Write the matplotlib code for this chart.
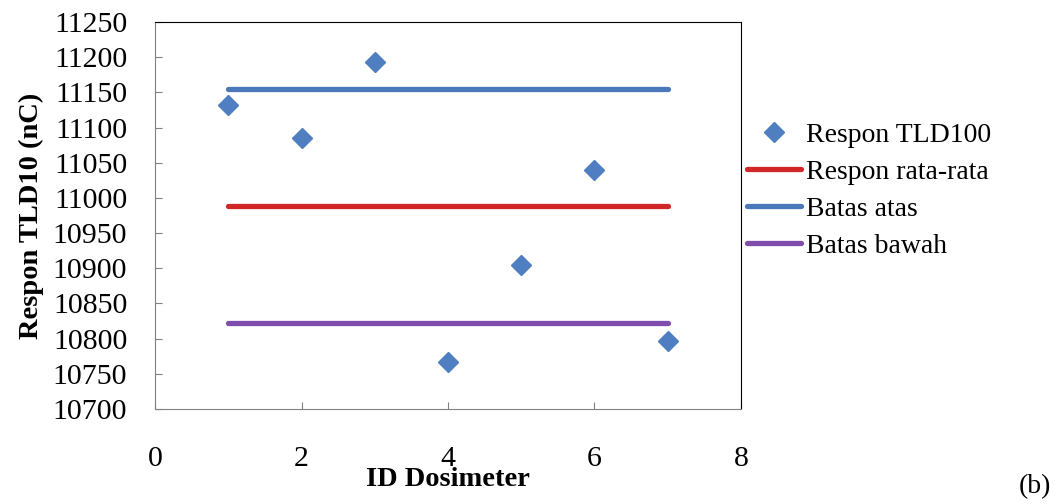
import matplotlib.pyplot as plt

# dosimeter response data
dosimeter_id = [1, 2, 3, 4, 5, 6, 7]
respon_tld = [11132, 11085, 11193, 10767, 10905, 11040, 10797]
respon_rata = [10988, 10988, 10988, 10988, 10988, 10988, 10988]
batas_atas = [11155, 11155, 11155, 11155, 11155, 11155, 11155]
batas_bawah = [10822, 10822, 10822, 10822, 10822, 10822, 10822]

x_ticks = [0, 2, 4, 6, 8]
y_ticks = [10700, 10750, 10800, 10850, 10900, 10950, 11000, 11050,
           11100, 11150, 11200, 11250]

plt.rcParams['font.family'] = ['Liberation Serif', 'DejaVu Serif']

fig = plt.figure(figsize=(10.59, 5.04), dpi=100)
ax = fig.add_axes([0.1464, 0.1885, 0.5533, 0.7678])

ax.plot(dosimeter_id, respon_tld, linestyle='none', marker='D', markersize=10.5,
        color='#4F7FC0', label='Respon TLD100', zorder=3)
ax.plot(dosimeter_id, respon_rata, color='#D02828', linewidth=3.8,
        solid_capstyle='round', label='Respon rata-rata')
ax.plot(dosimeter_id, batas_atas, color='#4A78B8', linewidth=3.8,
        solid_capstyle='round', label='Batas atas')
ax.plot(dosimeter_id, batas_bawah, color='#7F4DAB', linewidth=3.8,
        solid_capstyle='round', label='Batas bawah')

ax.set_xlim(0, 8)
ax.set_ylim(10700, 11250)
ax.set_xticks(x_ticks)
ax.set_yticks(y_ticks)

ax.tick_params(axis='y', direction='in', length=5, color='#808080',
               labelsize=21.5, pad=20)
ax.tick_params(axis='x', direction='in', length=5, color='#808080',
               labelsize=21.5, pad=27)

for side in ['left', 'bottom']:
    ax.spines[side].set_color('#808080')
for side in ['top', 'right']:
    ax.spines[side].set_color('black')

ax.set_ylabel('Respon TLD10 (nC)', fontsize=20.5, fontweight='bold', labelpad=6)
ax.set_xlabel('ID Dosimeter', fontsize=20.5, fontweight='bold', labelpad=-4)

ax.legend(loc='center left', bbox_to_anchor=(1.0, 0.564), frameon=False,
          fontsize=20, handlelength=1.95, handletextpad=0.2, labelspacing=0.42,
          borderpad=0, borderaxespad=0.2)

fig.text(0.977, 0.035, '(b)', fontsize=20, ha='center', va='center')

fig.savefig('out.png', dpi=100)
